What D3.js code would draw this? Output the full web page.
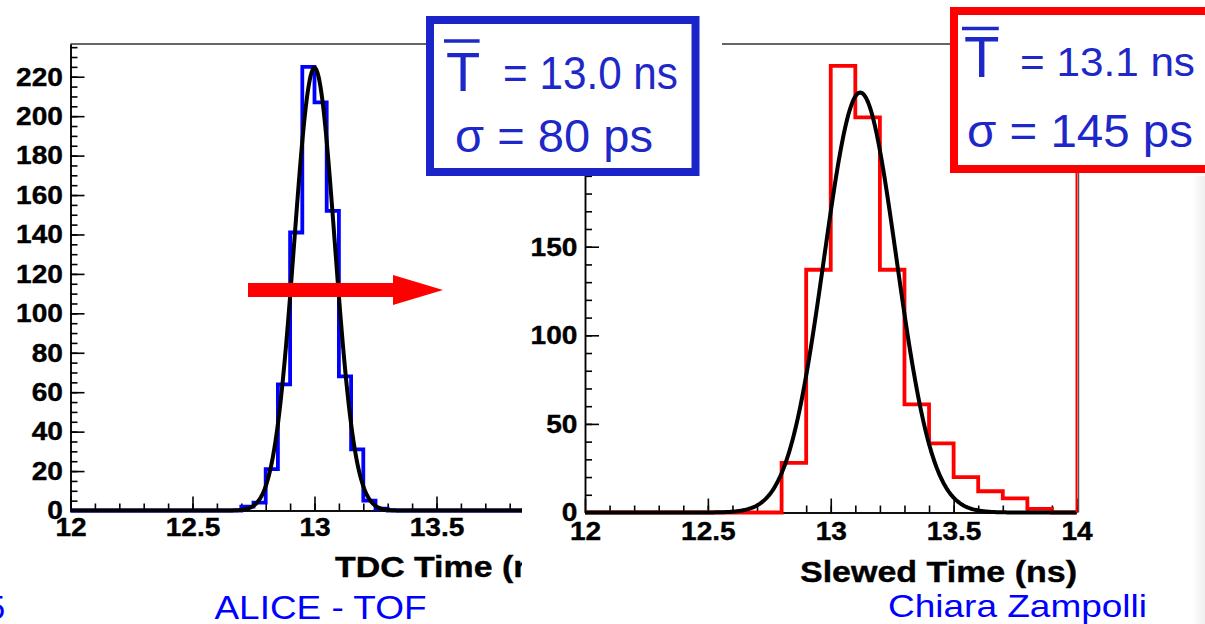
<!DOCTYPE html>
<html>
<head>
<meta charset="utf-8">
<script src="https://cdn.jsdelivr.net/npm/d3@7/dist/d3.min.js"></script>
<style>
  body { margin: 0; background: #fff; }
  svg { display: block; font-family: "Liberation Sans", Arial, sans-serif; }
</style>
</head>
<body>
<div id="chart"></div>
<script>
// Left histogram: TDC time, bins of 0.05 ns
const leftBinStart = [12.70, 12.75, 12.80, 12.85, 12.90, 12.95, 13.00, 13.05, 13.10, 13.15, 13.20, 13.25];
const leftCounts   = [2, 4, 21, 64, 141, 225, 207, 152, 68, 31, 5, 1];
const leftBinWidth = 0.05;
const leftFit = { amp: 224.5, mean: 13.0, sigma: 0.083 };

// Right histogram: slewed time, bins of 0.1 ns
const rightBinStart = [12.8, 12.9, 13.0, 13.1, 13.2, 13.3, 13.4, 13.5, 13.6, 13.7, 13.8];
const rightCounts   = [28, 137, 252, 223, 137, 61, 39, 20, 12, 8, 2];
const rightBinWidth = 0.1;
const rightFit = { amp: 237, mean: 13.12, sigma: 0.147 };

// Axis ticks
const xMajorTicks = [12, 12.5, 13, 13.5, 14];
const xMinorTicks = d3.range(121, 141).map(d => d / 10);
const leftYMajor = [0, 20, 40, 60, 80, 100, 120, 140, 160, 180, 200, 220];
const leftYLabels = leftYMajor;
const leftYMinor = d3.range(0, 236, 5);
const rightYMajor = [0, 50, 100, 150, 200, 250];
const rightYLabels = [0, 50, 100, 150];   // 200 and 250 sit behind the blue box
const rightYMinor = d3.range(0, 264, 10);

// Labels
const leftXTitle = 'TDC Time (ns)';
const rightXTitle = 'Slewed Time (ns)';
const boxLeft = { mean: '= 13.0 ns', sigma: 'σ = 80 ps' };
const boxRight = { mean: '= 13.1 ns', sigma: 'σ = 145 ps' };

const W = 1205, H = 624;
const svg = d3.select('#chart').append('svg')
    .attr('width', W)
    .attr('height', H);

const defs = svg.append('defs');
defs.append('clipPath').attr('id', 'clip-left')
    .append('rect').attr('x', 0).attr('y', 0).attr('width', 522).attr('height', H);

const edgeGrad = defs.append('linearGradient').attr('id', 'edge-grad')
    .attr('x1', '0%').attr('x2', '100%').attr('y1', '0%').attr('y2', '0%');
edgeGrad.append('stop').attr('offset', '0%').attr('stop-color', '#fff');
edgeGrad.append('stop').attr('offset', '100%').attr('stop-color', '#efefef');

// faint shadow along the right edge of the slide
svg.append('rect')
    .attr('x', 1192).attr('y', 176).attr('width', 13).attr('height', H - 176)
    .attr('fill', 'url(#edge-grad)');

const gauss = p => x => p.amp * Math.exp(-0.5 * Math.pow((x - p.mean) / p.sigma, 2));

function histPoints(starts, counts, w) {
    const pts = [[12, 0]];
    starts.forEach((s, i) => pts.push([s, counts[i]]));
    pts.push([starts[starts.length - 1] + w, 0]);
    pts.push([14, 0]);
    return pts;
}

function styleTicks(g) {
    g.select('.domain').attr('stroke', '#000').attr('stroke-width', 1.5);
    g.selectAll('.tick line').attr('stroke', '#000').attr('stroke-width', 1.6);
    g.selectAll('.tick text')
        .style('font-size', '26px')
        .style('font-weight', 'bold')
        .attr('fill', '#000')
        .attr('stroke', '#000')
        .attr('stroke-width', 0.4)
        .attr('transform', 'scale(1.08,1)');
}

function drawPanel(g, opt) {
    const x = d3.scaleLinear().domain([12, 14]).range(opt.xRange);
    const y = d3.scaleLinear().domain([0, opt.yTop]).range(opt.yRange);

    // frame top
    g.append('line')
        .attr('x1', opt.topStart).attr('x2', x(14))
        .attr('y1', y(opt.yTop)).attr('y2', y(opt.yTop))
        .attr('stroke', '#333').attr('stroke-width', 1.5);

    // minor y ticks
    g.append('g')
        .attr('transform', `translate(${x(12)},0)`)
        .call(d3.axisLeft(y).tickValues(opt.yMinor).tickSize(-7).tickSizeOuter(0).tickFormat(''))
        .call(styleTicks);

    // major y ticks
    g.append('g')
        .attr('transform', `translate(${x(12)},0)`)
        .call(d3.axisLeft(y).tickValues(opt.yMajor).tickSize(-14).tickSizeOuter(0).tickPadding(7)
            .tickFormat(d => opt.yLabels.includes(d) ? d : ''))
        .call(styleTicks);

    // minor x ticks
    g.append('g')
        .attr('transform', `translate(0,${y(0)})`)
        .call(d3.axisBottom(x).tickValues(xMinorTicks).tickSize(-7).tickSizeOuter(0).tickFormat(''))
        .call(styleTicks);

    // major x ticks
    g.append('g')
        .attr('transform', `translate(0,${y(0)})`)
        .call(d3.axisBottom(x).tickValues(xMajorTicks).tickSize(-14).tickSizeOuter(0)
            .tickPadding(opt.xPad).tickFormat(d3.format('')))
        .call(styleTicks);

    // histogram
    const line = d3.line().x(d => x(d[0])).y(d => y(d[1])).curve(d3.curveStepAfter);
    g.append('path')
        .datum(histPoints(opt.starts, opt.counts, opt.binWidth))
        .attr('d', line)
        .attr('fill', 'none')
        .attr('stroke', opt.histColor)
        .attr('stroke-width', 3.8);

    // gaussian fit
    const f = gauss(opt.fit);
    const fitPts = d3.range(12, 14.0001, 0.004).map(v => [v, f(v)]);
    g.append('path')
        .datum(fitPts)
        .attr('d', d3.line().x(d => x(d[0])).y(d => y(d[1])))
        .attr('fill', 'none')
        .attr('stroke', '#000')
        .attr('stroke-width', 4)
        .attr('stroke-linejoin', 'round');

    return { x, y };
}

// Left panel (clipped by the right picture)
const left = svg.append('g').attr('clip-path', 'url(#clip-left)');
drawPanel(left, {
    xRange: [70.5, 558.5], yRange: [510.5, 44], yTop: 236.6,
    yMajor: leftYMajor, yLabels: leftYLabels, yMinor: leftYMinor, xPad: 7, topStart: 70.5,
    starts: leftBinStart, counts: leftCounts, binWidth: leftBinWidth,
    histColor: '#0000ff', fit: leftFit
});
left.append('text')
    .attr('x', 335).attr('y', 577)
    .attr('textLength', 229).attr('lengthAdjust', 'spacingAndGlyphs')
    .attr('stroke', '#000').attr('stroke-width', 0.4)
    .style('font-size', '30px').style('font-weight', 'bold')
    .text(leftXTitle);

// Right panel
const right = svg.append('g');
const rs = drawPanel(right, {
    xRange: [585, 1076.5], yRange: [512.5, 44], yTop: 264.4,
    yMajor: rightYMajor, yLabels: rightYLabels, yMinor: rightYMinor, xPad: 9, topStart: 722,
    starts: rightBinStart, counts: rightCounts, binWidth: rightBinWidth,
    histColor: '#ff0000', fit: rightFit
});
// frame right side, grey, and red histogram edge
right.append('line')
    .attr('x1', rs.x(14) + 2).attr('x2', rs.x(14) + 2)
    .attr('y1', rs.y(0)).attr('y2', rs.y(264.4))
    .attr('stroke', '#555').attr('stroke-width', 1.5);
right.append('line')
    .attr('x1', rs.x(14)).attr('x2', rs.x(14))
    .attr('y1', rs.y(0)).attr('y2', rs.y(264.4))
    .attr('stroke', '#ff0000').attr('stroke-width', 2);
right.append('text')
    .attr('x', 800).attr('y', 582)
    .attr('textLength', 277).attr('lengthAdjust', 'spacingAndGlyphs')
    .attr('stroke', '#000').attr('stroke-width', 0.4)
    .style('font-size', '30px').style('font-weight', 'bold')
    .text(rightXTitle);

// Red arrow
svg.append('path')
    .attr('d', 'M248,283 L393,283 L393,275 L443,290 L393,305 L393,297 L248,297 Z')
    .attr('fill', '#ff0000');

// Result boxes
function resultBox(o) {
    const g = svg.append('g');
    g.append('rect')
        .attr('x', o.x).attr('y', o.y).attr('width', o.w).attr('height', o.h)
        .attr('fill', '#fff').attr('stroke', o.color).attr('stroke-width', 8);
    g.append('text')
        .attr('x', o.tx).attr('y', o.ty)
        .attr('fill', '#1e28c8').style('font-size', o.tSize + 'px')
        .text('T');
    g.append('line')
        .attr('x1', o.tx - 2).attr('x2', o.tx + o.tSize * 0.6)
        .attr('y1', o.barY).attr('y2', o.barY)
        .attr('stroke', '#1e28c8').attr('stroke-width', 3.5);
    g.append('text')
        .attr('x', o.mx).attr('y', o.my)
        .attr('textLength', o.mLen).attr('lengthAdjust', 'spacingAndGlyphs')
        .attr('fill', '#1e28c8').style('font-size', o.mSize + 'px')
        .text(o.mean);
    g.append('text')
        .attr('x', o.sx).attr('y', o.sy)
        .attr('textLength', o.sLen).attr('lengthAdjust', 'spacingAndGlyphs')
        .attr('fill', '#1e28c8').style('font-size', o.sSize + 'px')
        .text(o.sigma);
}

resultBox({
    x: 430, y: 20, w: 265.5, h: 152, color: '#1a24c8',
    tx: 446, ty: 90.5, tSize: 56, barY: 41,
    mx: 503, my: 89, mLen: 175, mSize: 46, mean: boxLeft.mean,
    sx: 455, sy: 152, sLen: 198, sSize: 47, sigma: boxLeft.sigma
});
resultBox({
    x: 954, y: 11, w: 270, h: 158, color: '#ff0000',
    tx: 964, ty: 77, tSize: 58, barY: 28.5,
    mx: 1020, my: 76, mLen: 175, mSize: 41, mean: boxRight.mean,
    sx: 967, sy: 147, sLen: 226, sSize: 47, sigma: boxRight.sigma
});

// Footer texts
svg.append('text')
    .attr('x', 214.5).attr('y', 619)
    .attr('textLength', 212).attr('lengthAdjust', 'spacingAndGlyphs')
    .attr('fill', '#0000ff').style('font-size', '33px')
    .text('ALICE - TOF');
svg.append('text')
    .attr('x', 888).attr('y', 617)
    .attr('textLength', 259).attr('lengthAdjust', 'spacingAndGlyphs')
    .attr('fill', '#0000ff').style('font-size', '32px')
    .text('Chiara Zampolli');
svg.append('text')
    .attr('x', 5).attr('y', 619)
    .attr('text-anchor', 'end')
    .attr('fill', '#0000ff').style('font-size', '33px')
    .text('5');
</script>
</body>
</html>
